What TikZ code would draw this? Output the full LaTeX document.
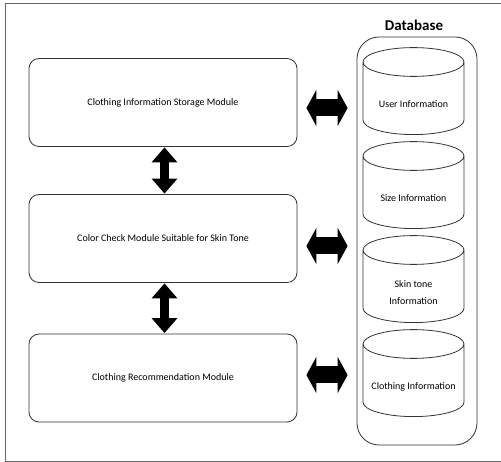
\documentclass[tikz,border=0pt]{standalone}
\usepackage{fontspec}
\setmainfont{Carlito}
\usetikzlibrary{shapes.geometric,arrows.meta,positioning}

\newcommand{\dblabel}[1]{\raisebox{-8.5pt}[0pt][0pt]{\makebox[90pt]{\begin{tabular}{@{}c@{}}#1\end{tabular}}}}

\begin{document}
\begin{tikzpicture}[x=1pt,y=-1pt,node distance=94pt,
    module/.style={draw=black!80,line width=0.8pt,rounded corners=10pt,
      minimum width=268pt,minimum height=88pt,font=\fontsize{10}{12}\selectfont},
    dbpart/.style={cylinder,shape border rotate=90,draw=black!80,line width=0.8pt,
      aspect=0.32,minimum width=101pt,minimum height=87pt,inner sep=0pt,
      font=\fontsize{10}{17}\selectfont},
    hbig/.style={line width=17pt,{Triangle[length=10pt,width=36pt]}-{Triangle[length=10pt,width=36pt]}},
    vbig/.style={line width=9pt,{Triangle[length=15pt,width=25pt]}-{Triangle[length=15pt,width=25pt]}}]

  \useasboundingbox (0,0) rectangle (501,462);
  \draw[black!60,line width=1pt] (501,4) -- (5,4) -- (5,461) -- (501,461);

  % modules
  \node[module] (store) at (163,102.5) {Clothing Information Storage Module};
  \node[module] (color) at (163,238.5) {Color Check Module Suitable for Skin Tone};
  \node[module] (recom) at (163,378) {Clothing Recommendation Module};

  % database
  \node[draw=black!80,line width=0.8pt,rounded corners=22pt,minimum width=120pt,
    minimum height=408pt] (db) at (417,241) {};
  \node[font=\bfseries\fontsize{15}{18}\selectfont] (dbtitle) at (414,25) {Database};
  \node[dbpart] (user) at (413.5,98.5) {\dblabel{User Information}};
  \node[dbpart] (size) [below of=user] {\dblabel{Size Information}};
  \node[dbpart] (skin) [below of=size] {\dblabel{Skin tone\\Information}};
  \node[dbpart] (cloth) [below of=skin] {\dblabel{Clothing Information}};

  % arrows
  \draw[hbig] ([shift={(9pt,-5.5pt)}]store.east) -- ([shift={(-9pt,-5.5pt)}]store.east -| db.west);
  \draw[hbig] ([shift={(9pt,-7.5pt)}]color.east) -- ([shift={(-9pt,-7.5pt)}]color.east -| db.west);
  \draw[hbig] ([shift={(9pt,3pt)}]recom.east) -- ([shift={(-9pt,3pt)}]recom.east -| db.west);
  \draw[vbig] ([shift={(1.5pt,-0.5pt)}]store.south) -- ([shift={(1.5pt,0.5pt)}]color.north);
  \draw[vbig] ([shift={(1.5pt,-0.5pt)}]color.south) -- ([shift={(1.5pt,0.5pt)}]recom.north);
\end{tikzpicture}
\end{document}
